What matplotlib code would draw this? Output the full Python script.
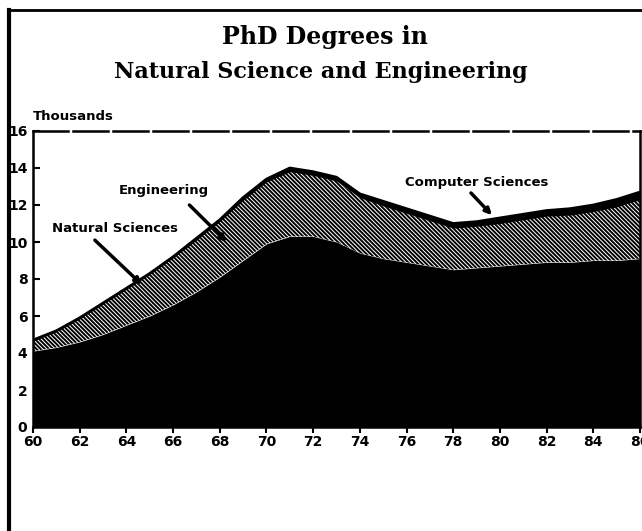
import numpy as np
import matplotlib
matplotlib.use('Agg')
import matplotlib.pyplot as plt
from matplotlib.lines import Line2D

# PhD degrees, thousands
years = [60, 61, 62, 63, 64, 65, 66, 67, 68, 69, 70, 71, 72, 73,
         74, 75, 76, 77, 78, 79, 80, 81, 82, 83, 84, 85, 86]
natural_sci = [4.1, 4.3, 4.6, 5.0, 5.5, 6.0, 6.6, 7.3, 8.1, 9.0, 9.9, 10.3, 10.3, 10.0,
               9.4, 9.1, 8.9, 8.7, 8.5, 8.6, 8.7, 8.8, 8.9, 8.9, 9.0, 9.0, 9.1]
engineering = [0.55, 0.85, 1.25, 1.65, 1.95, 2.25, 2.55, 2.8, 3.0, 3.25, 3.35, 3.5, 3.3, 3.3,
               3.0, 2.85, 2.65, 2.45, 2.25, 2.25, 2.3, 2.4, 2.5, 2.55, 2.65, 2.9, 3.2]
computer_sci = [0.05, 0.05, 0.05, 0.05, 0.05, 0.05, 0.05, 0.1, 0.1, 0.15, 0.15, 0.2, 0.2, 0.2,
                0.2, 0.25, 0.25, 0.25, 0.25, 0.25, 0.3, 0.3, 0.3, 0.35, 0.35, 0.4, 0.4]

x_ticks = list(range(60, 87, 2))
y_ticks = list(range(0, 17, 2))

ns = np.array(natural_sci)
eng_top = ns + np.array(engineering)
total = eng_top + np.array(computer_sci)

plt.rcParams['hatch.linewidth'] = 1.4
plt.rcParams['hatch.color'] = 'black'

fig = plt.figure(figsize=(6.42, 5.31), dpi=100)
ax = fig.add_axes([33/642, 104/531, 607/642, 296/531])

ax.fill_between(years, 0, ns, color='black', lw=0)
ax.fill_between(years, ns, eng_top, facecolor='white', edgecolor='black',
                hatch='\\' * 8, lw=0)
ax.fill_between(years, eng_top, total, color='black', lw=0)
ax.plot(years, total, color='black', lw=2)

ax.set_xlim(60, 86)
ax.set_ylim(0, 16)
ax.set_xticks(x_ticks)
ax.set_yticks(y_ticks)
ax.tick_params(axis='x', direction='out', length=4, width=1.5, pad=2)
ax.tick_params(axis='y', direction='in', length=5, width=1.5, pad=4)
for lab in ax.get_xticklabels() + ax.get_yticklabels():
    lab.set_fontweight('bold')
    lab.set_fontsize(10)

for s in ['left', 'right', 'bottom']:
    ax.spines[s].set_linewidth(1.8)
ax.spines['top'].set_linewidth(1.8)
ax.spines['top'].set_linestyle((0, (14, 2)))

# labels with arrows
lab_font = dict(fontsize=9.5, fontweight='bold', ha='center', va='center')
ax.text(65.6, 12.8, 'Engineering', **lab_font)
ax.text(63.5, 10.75, 'Natural Sciences', **lab_font)
ax.text(79.0, 13.2, 'Computer Sciences', **lab_font)
arr = dict(arrowstyle='-|>', lw=2.5, color='black', mutation_scale=9,
           shrinkA=0, shrinkB=0)
ax.annotate('', xy=(68.3, 10.0), xytext=(66.7, 12.0), arrowprops=arr)
ax.annotate('', xy=(64.66, 7.7), xytext=(62.65, 10.1), arrowprops=arr)
ax.annotate('', xy=(79.66, 11.45), xytext=(78.76, 12.65), arrowprops=arr)

fig.text(33/642, 1 - 117/531, 'Thousands', fontsize=9.5, fontweight='bold',
         ha='left', va='center')

fig.text(325/642, 1 - 37/531, 'PhD Degrees in', family='DejaVu Serif',
         fontsize=17, fontweight='bold', ha='center', va='center')
fig.text(321/642, 1 - 72/531, 'Natural Science and Engineering', family='DejaVu Serif',
         fontsize=16, fontweight='bold', ha='center', va='center')

# outer frame of the scanned page
fig.add_artist(Line2D([8/642, 1], [1 - 10/531, 1 - 10/531], transform=fig.transFigure,
                      color='black', lw=2))
fig.add_artist(Line2D([9/642, 9/642], [0, 1 - 10/531], transform=fig.transFigure,
                      color='black', lw=3))

fig.savefig('out.png', dpi=100)
